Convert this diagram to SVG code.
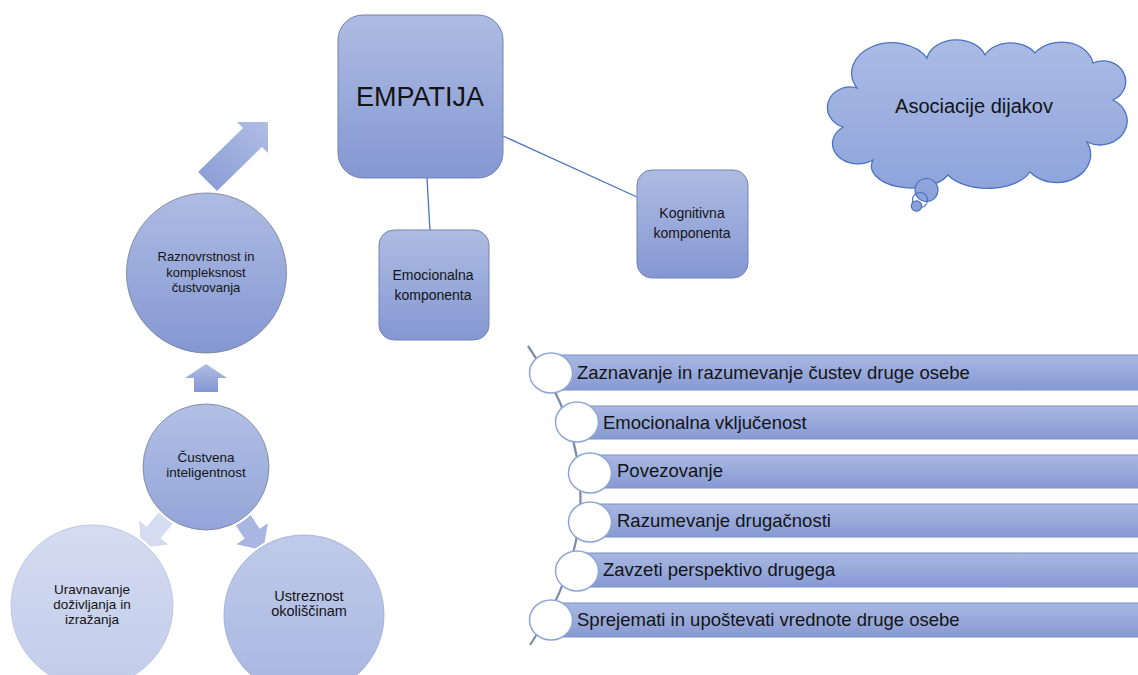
<svg xmlns="http://www.w3.org/2000/svg" width="1138" height="675" viewBox="0 0 1138 675">
<defs>
<linearGradient id="gBlue" x1="0" y1="0" x2="0" y2="1"><stop offset="0" stop-color="#AEBCE3"/><stop offset="1" stop-color="#8497D2"/></linearGradient>
<linearGradient id="gBar" x1="0" y1="0" x2="0" y2="1"><stop offset="0" stop-color="#A9B8E2"/><stop offset="1" stop-color="#8699D3"/></linearGradient>
<linearGradient id="gCirc2" x1="0" y1="0" x2="0" y2="1"><stop offset="0" stop-color="#B2C0E5"/><stop offset="1" stop-color="#93A5D9"/></linearGradient>
<linearGradient id="gLight" x1="0" y1="0" x2="0" y2="1"><stop offset="0" stop-color="#D4DCF1"/><stop offset="1" stop-color="#C2CCEA"/></linearGradient>
<linearGradient id="gMed" x1="0" y1="0" x2="0" y2="1"><stop offset="0" stop-color="#C0CBEA"/><stop offset="1" stop-color="#A8B6E1"/></linearGradient>
<linearGradient id="gCloud" gradientUnits="userSpaceOnUse" x1="0" y1="40" x2="0" y2="212"><stop offset="0" stop-color="#AABBE5"/><stop offset="1" stop-color="#8AA0D9"/></linearGradient>
<linearGradient id="gDiag" gradientUnits="userSpaceOnUse" x1="207" y1="182" x2="268" y2="122"><stop offset="0" stop-color="#8C9FD6"/><stop offset="1" stop-color="#B0BEE5"/></linearGradient>
<style>
text{font-family:"Liberation Sans",Arial,sans-serif;fill:#141414;text-anchor:middle}
.box{fill:url(#gBlue);stroke:#7283B3;stroke-width:1}
.halo{fill:none;stroke:#fff;stroke-width:5}
.cedge{stroke:#747C92;stroke-width:0.8}
.bar{fill:url(#gBar);stroke:#7E90C4;stroke-width:1}
.dot{fill:#fff;stroke:#8EA6D8;stroke-width:1.5}
.lt{text-anchor:start;font-size:18.5px}
.conn{stroke:#4A72C0;stroke-width:1.3;fill:none}
</style>
</defs>
<rect width="1138" height="675" fill="#fff"/>

<g id="connectors">
<line class="conn" x1="427" y1="178" x2="430" y2="231"/>
<line class="conn" x1="503" y1="136" x2="637" y2="197"/>
<path d="M528,346 Q632,495 530,645" fill="none" stroke="#7D8BA8" stroke-width="2.2"/>
<polygon points="198,172 243,128 237,122 268,122 268,153 262,147 217,191" fill="url(#gDiag)"/>
<polygon points="206,364 227,378 218,378 218,392 194,392 194,378 185,378" fill="url(#gBlue)"/>
<polygon points="-22,-9 2,-9 2,-19 22,0 2,19 2,9 -22,9" fill="#D5DCF1" transform="translate(155,531) rotate(129.4)"/>
<polygon points="-22,-9 2,-9 2,-19 22,0 2,19 2,9 -22,9" fill="#A8B6E1" transform="translate(251,532) rotate(56.5)"/>
</g>

<g id="empatija">
<rect class="box" x="338" y="15" width="165" height="163" rx="25"/>
<text x="420" y="106" font-size="27">EMPATIJA</text>
</g>
<g id="emocionalna">
<rect class="box" x="379" y="230" width="110" height="110" rx="15"/>
<text x="433" y="280" font-size="14">Emocionalna</text>
<text x="433" y="300" font-size="14">komponenta</text>
</g>
<g id="kognitivna">
<rect class="box" x="637" y="170" width="111" height="108" rx="15"/>
<text x="692" y="218" font-size="14">Kognitivna</text>
<text x="692" y="238" font-size="14">komponenta</text>
</g>

<g id="cloud">
<path d="M857,88 A40,30 0 0 1 927,58 A30,22 0 0 1 985,55 A28,20 0 0 1 1035,53 A32,25 0 0 1 1093,63 A22,20 0 0 1 1113,100 A25,22 0 0 1 1087,142 A34,28 0 0 1 1030,172 A45,25 0 0 1 948,175 A40,22 0 0 1 873,160 A25,20 0 0 1 843,127 A22,20 0 0 1 857,88 Z" fill="url(#gCloud)" stroke="#4A72C0" stroke-width="1.3"/>
<circle cx="926.5" cy="190" r="11.5" fill="url(#gCloud)" stroke="#4A72C0" stroke-width="1.2"/>
<circle cx="920" cy="200" r="7.5" fill="none" stroke="#4A72C0" stroke-width="1.2"/>
<circle cx="916.5" cy="206" r="5.2" fill="url(#gCloud)" stroke="#4A72C0" stroke-width="1.2"/>
<text x="974" y="113" font-size="20">Asociacije dijakov</text>
</g>

<g id="raznovrstnost">
<circle class="halo" cx="206.5" cy="273" r="80"/>
<circle class="cedge" cx="206.5" cy="273" r="80" fill="url(#gBlue)"/>
<text x="206" y="261" font-size="13">Raznovrstnost in</text>
<text x="206" y="277" font-size="13">kompleksnost</text>
<text x="206" y="292" font-size="13">čustvovanja</text>
</g>
<g id="custvena">
<circle class="halo" cx="206" cy="467" r="63"/>
<circle class="cedge" cx="206" cy="467" r="63" fill="url(#gCirc2)"/>
<text x="206" y="462" font-size="13.5">Čustvena</text>
<text x="206" y="477" font-size="13.5">inteligentnost</text>
</g>
<g id="uravnavanje">
<circle class="halo" cx="92" cy="606" r="81"/>
<circle cx="92" cy="606" r="81" fill="url(#gLight)" stroke="#B5C0E2" stroke-width="0.8"/>
<text x="92" y="594" font-size="13.5">Uravnavanje</text>
<text x="92" y="609" font-size="13.5">doživljanja in</text>
<text x="92" y="624" font-size="13.5">izražanja</text>
</g>
<g id="ustreznost">
<circle class="halo" cx="304" cy="615" r="80"/>
<circle cx="304" cy="615" r="80" fill="url(#gMed)" stroke="#98A7D6" stroke-width="0.8"/>
<text x="309" y="601" font-size="14.5">Ustreznost</text>
<text x="309" y="616" font-size="14.5">okoliščinam</text>
</g>

<g id="item1">
<rect class="bar" x="551" y="355" width="590" height="35"/>
<ellipse class="dot" cx="551" cy="373" rx="21.5" ry="20"/>
<text class="lt" x="577" y="379">Zaznavanje in razumevanje čustev druge osebe</text>
</g>
<g id="item2">
<rect class="bar" x="577" y="406" width="564" height="33"/>
<ellipse class="dot" cx="577" cy="422" rx="21.5" ry="20"/>
<text class="lt" x="603" y="429">Emocionalna vključenost</text>
</g>
<g id="item3">
<rect class="bar" x="590" y="455" width="551" height="33"/>
<ellipse class="dot" cx="590" cy="473" rx="21.5" ry="20"/>
<text class="lt" x="617" y="477">Povezovanje</text>
</g>
<g id="item4">
<rect class="bar" x="590" y="504" width="551" height="33"/>
<ellipse class="dot" cx="590" cy="522" rx="21.5" ry="20"/>
<text class="lt" x="617" y="527">Razumevanje drugačnosti</text>
</g>
<g id="item5">
<rect class="bar" x="577" y="553" width="564" height="34"/>
<ellipse class="dot" cx="577" cy="571" rx="21.5" ry="20"/>
<text class="lt" x="603" y="576">Zavzeti perspektivo drugega</text>
</g>
<g id="item6">
<rect class="bar" x="551" y="603" width="590" height="34"/>
<ellipse class="dot" cx="551" cy="620" rx="21.5" ry="20"/>
<text class="lt" x="577" y="626">Sprejemati in upoštevati vrednote druge osebe</text>
</g>
</svg>
